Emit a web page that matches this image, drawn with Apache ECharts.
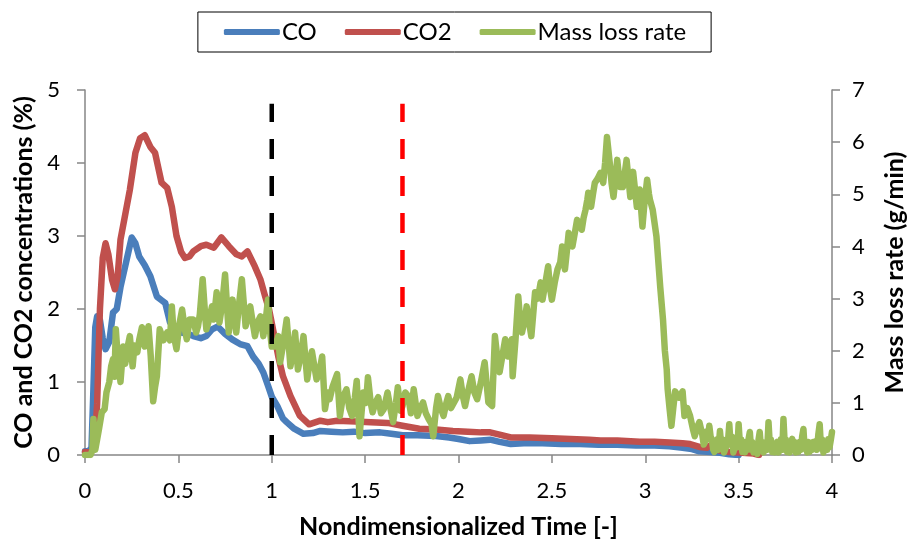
<!DOCTYPE html>
<html>
<head>
<meta charset="utf-8">
<script src="https://cdn.jsdelivr.net/npm/echarts@6/dist/echarts.min.js"></script>
<style>
html,body{margin:0;padding:0;background:#fff;}
#chart{width:910px;height:541px;}
</style>
</head>
<body>
<div id="chart"></div>
<script>
// ---- Data ----
var coTime = [0, 0.02, 0.035, 0.045, 0.055, 0.065, 0.08, 0.095, 0.11, 0.12, 0.13, 0.15, 0.17, 0.19, 0.22, 0.25, 0.27, 0.29, 0.32, 0.35, 0.385, 0.41, 0.43, 0.455, 0.48, 0.51, 0.55, 0.58, 0.62, 0.65, 0.68, 0.71, 0.75, 0.79, 0.83, 0.87, 0.9, 0.93, 0.955, 0.98, 1.0, 1.03, 1.06, 1.08, 1.12, 1.17, 1.22, 1.26, 1.32, 1.38, 1.44, 1.5, 1.58, 1.64, 1.7, 1.78, 1.88, 1.95, 2.0, 2.06, 2.12, 2.17, 2.22, 2.28, 2.35, 2.45, 2.55, 2.65, 2.75, 2.85, 2.95, 3.05, 3.13, 3.2, 3.25, 3.29, 3.35, 3.4, 3.45, 3.5];
var coValue = [0.05, 0.05, 0.1, 0.9, 1.75, 1.9, 1.85, 1.6, 1.45, 1.45, 1.55, 1.95, 2.0, 2.3, 2.64, 2.98, 2.9, 2.72, 2.6, 2.45, 2.17, 2.12, 2.08, 1.82, 1.72, 1.68, 1.66, 1.63, 1.6, 1.63, 1.72, 1.76, 1.66, 1.58, 1.52, 1.49, 1.35, 1.25, 1.13, 0.95, 0.8, 0.67, 0.5, 0.45, 0.36, 0.29, 0.3, 0.33, 0.32, 0.31, 0.32, 0.3, 0.31, 0.29, 0.27, 0.27, 0.26, 0.24, 0.22, 0.19, 0.2, 0.21, 0.18, 0.15, 0.16, 0.16, 0.15, 0.15, 0.14, 0.14, 0.13, 0.13, 0.12, 0.1, 0.08, 0.05, 0.04, 0.03, 0.01, 0.0];

var co2Time = [0, 0.03, 0.05, 0.065, 0.08, 0.095, 0.11, 0.125, 0.145, 0.16, 0.175, 0.19, 0.21, 0.24, 0.27, 0.295, 0.32, 0.35, 0.375, 0.41, 0.44, 0.465, 0.49, 0.515, 0.535, 0.56, 0.58, 0.62, 0.65, 0.69, 0.73, 0.77, 0.81, 0.84, 0.87, 0.91, 0.94, 0.965, 0.985, 1.0, 1.035, 1.06, 1.1, 1.15, 1.2, 1.26, 1.3, 1.35, 1.45, 1.53, 1.62, 1.7, 1.79, 1.88, 1.97, 2.05, 2.12, 2.17, 2.22, 2.28, 2.38, 2.5, 2.6, 2.7, 2.76, 2.85, 2.97, 3.05, 3.13, 3.2, 3.24, 3.29, 3.33, 3.36, 3.38, 3.4, 3.45, 3.52, 3.58, 3.61];
var co2Value = [0.04, 0.03, 0.1, 0.7, 2.0, 2.7, 2.9, 2.75, 2.4, 2.27, 2.45, 2.95, 3.22, 3.63, 4.14, 4.34, 4.38, 4.22, 4.14, 3.73, 3.66, 3.4, 3.0, 2.78, 2.7, 2.72, 2.79, 2.86, 2.88, 2.84, 2.98, 2.86, 2.75, 2.72, 2.79, 2.58, 2.4, 2.17, 2.0, 1.81, 1.35, 1.08, 0.81, 0.54, 0.42, 0.47, 0.45, 0.47, 0.46, 0.45, 0.44, 0.4, 0.36, 0.35, 0.33, 0.32, 0.31, 0.31, 0.28, 0.24, 0.24, 0.23, 0.22, 0.21, 0.2, 0.2, 0.18, 0.18, 0.17, 0.16, 0.15, 0.11, 0.1, 0.15, 0.08, 0.06, 0.04, 0.03, 0.02, 0.0];

// mass loss rate, growth/peak part (t <= 3.29)
var mlrTime = [0, 0.03, 0.04, 0.045, 0.055, 0.065, 0.075, 0.09, 0.105, 0.115, 0.13, 0.14, 0.15, 0.158, 0.165, 0.175, 0.19, 0.205, 0.215, 0.22, 0.23, 0.24, 0.255, 0.265, 0.28, 0.29, 0.305, 0.32, 0.34, 0.352, 0.365, 0.375, 0.385, 0.4, 0.42, 0.44, 0.455, 0.465, 0.475, 0.49, 0.505, 0.52, 0.535, 0.545, 0.56, 0.58, 0.595, 0.605, 0.615, 0.63, 0.645, 0.65, 0.665, 0.68, 0.69, 0.705, 0.72, 0.735, 0.75, 0.765, 0.77, 0.79, 0.81, 0.825, 0.84, 0.86, 0.875, 0.885, 0.9, 0.91, 0.925, 0.94, 0.955, 0.968, 0.98, 0.99, 1.0, 1.02, 1.035, 1.045, 1.06, 1.08, 1.1, 1.115, 1.125, 1.14, 1.155, 1.17, 1.19, 1.2, 1.215, 1.24, 1.255, 1.27, 1.285, 1.3, 1.31, 1.325, 1.35, 1.365, 1.38, 1.4, 1.415, 1.43, 1.445, 1.455, 1.47, 1.49, 1.505, 1.515, 1.53, 1.54, 1.555, 1.57, 1.585, 1.6, 1.62, 1.635, 1.65, 1.665, 1.675, 1.69, 1.7, 1.715, 1.73, 1.745, 1.76, 1.78, 1.795, 1.81, 1.825, 1.84, 1.855, 1.865, 1.88, 1.89, 1.905, 1.92, 1.935, 1.945, 1.96, 1.97, 1.99, 2.01, 2.025, 2.035, 2.05, 2.07, 2.085, 2.1, 2.12, 2.14, 2.16, 2.18, 2.195, 2.21, 2.22, 2.235, 2.25, 2.265, 2.285, 2.29, 2.305, 2.32, 2.33, 2.34, 2.355, 2.365, 2.38, 2.39, 2.41, 2.425, 2.44, 2.45, 2.465, 2.48, 2.49, 2.5, 2.515, 2.53, 2.545, 2.555, 2.565, 2.57, 2.58, 2.59, 2.6, 2.61, 2.625, 2.635, 2.65, 2.66, 2.67, 2.68, 2.69, 2.695, 2.705, 2.71, 2.72, 2.73, 2.745, 2.76, 2.775, 2.785, 2.795, 2.81, 2.82, 2.83, 2.84, 2.85, 2.865, 2.88, 2.89, 2.9, 2.91, 2.92, 2.935, 2.945, 2.955, 2.965, 2.97, 2.985, 2.995, 3.01, 3.02, 3.025, 3.04, 3.06, 3.08, 3.095, 3.105, 3.115, 3.12, 3.13, 3.14, 3.15, 3.16, 3.18, 3.2, 3.21, 3.225, 3.24, 3.255, 3.265, 3.28, 3.29];
var mlrValue = [0, 0, 0.1, 0.69, 0.1, 0.3, 0.5, 0.82, 0.88, 1.2, 1.4, 1.7, 1.84, 1.5, 2.41, 1.9, 1.4, 2.08, 1.75, 1.84, 2.1, 2.28, 1.7, 2.1, 1.97, 2.2, 2.45, 2.08, 2.47, 1.9, 1.03, 1.3, 1.51, 2.41, 2.2, 2.35, 2.2, 2.85, 2.3, 2.03, 2.5, 2.79, 2.4, 2.22, 2.6, 2.6, 2.35, 2.47, 2.7, 3.37, 2.6, 2.41, 2.6, 2.85, 2.6, 3.12, 2.54, 2.9, 3.46, 2.6, 2.35, 2.98, 2.35, 2.9, 3.37, 2.47, 2.7, 2.85, 2.5, 2.28, 2.55, 2.66, 2.28, 2.6, 2.98, 2.4, 2.08, 2.08, 2.28, 1.78, 2.1, 2.6, 1.7, 2.0, 2.35, 1.64, 1.9, 2.28, 1.45, 1.7, 1.99, 1.45, 1.6, 1.89, 0.88, 1.2, 1.07, 1.3, 1.55, 0.75, 1.1, 1.26, 0.9, 0.75, 1.1, 1.42, 0.36, 1.2, 1.0, 1.49, 1.0, 0.82, 1.0, 1.11, 0.8, 0.88, 1.2, 0.9, 0.63, 1.0, 1.3, 0.85, 0.94, 1.2, 1.13, 0.8, 1.26, 0.75, 0.9, 1.01, 0.8, 0.69, 0.6, 0.36, 0.9, 1.13, 0.9, 0.75, 1.0, 1.13, 0.9, 0.88, 1.1, 1.45, 1.1, 0.94, 1.2, 1.51, 1.2, 1.07, 1.4, 1.78, 1.01, 0.94, 2.28, 1.8, 1.59, 1.9, 2.22, 1.89, 2.22, 1.51, 2.2, 3.04, 2.6, 2.35, 2.6, 2.85, 2.5, 2.28, 3.12, 3.0, 3.31, 2.98, 3.3, 3.62, 3.2, 2.98, 3.3, 3.56, 3.7, 4.0, 3.7, 3.56, 3.9, 4.26, 4.1, 4.0, 4.3, 4.51, 4.4, 4.32, 4.55, 4.7, 4.9, 5.03, 4.85, 4.76, 5.0, 5.22, 5.3, 5.41, 5.22, 5.6, 6.1, 5.6, 5.2, 4.95, 5.3, 5.66, 5.14, 5.14, 5.4, 5.66, 5.3, 4.95, 5.43, 5.1, 4.76, 4.9, 5.09, 4.38, 4.8, 5.28, 5.0, 4.9, 4.7, 4.19, 3.23, 2.6, 2.0, 1.64, 1.26, 0.9, 0.56, 0.9, 1.22, 1.1, 1.22, 0.75, 0.9, 0.75, 0.5, 0.36, 0.55, 0.63];

// mass loss rate, noisy tail (t > 3.29)
var mlrTailTime = [3.305, 3.313, 3.32, 3.328, 3.335, 3.343, 3.35, 3.357, 3.364, 3.37, 3.377, 3.385, 3.392, 3.4, 3.408, 3.415, 3.422, 3.43, 3.437, 3.444, 3.45, 3.457, 3.465, 3.472, 3.48, 3.487, 3.494, 3.5, 3.507, 3.514, 3.52, 3.527, 3.534, 3.54, 3.547, 3.553, 3.56, 3.567, 3.573, 3.58, 3.587, 3.594, 3.6, 3.607, 3.613, 3.62, 3.627, 3.634, 3.64, 3.647, 3.653, 3.66, 3.667, 3.673, 3.68, 3.687, 3.694, 3.7, 3.707, 3.714, 3.72, 3.727, 3.734, 3.74, 3.747, 3.753, 3.76, 3.767, 3.774, 3.78, 3.787, 3.794, 3.8, 3.807, 3.814, 3.82, 3.827, 3.834, 3.84, 3.847, 3.853, 3.86, 3.867, 3.873, 3.88, 3.887, 3.894, 3.9, 3.907, 3.914, 3.92, 3.927, 3.934, 3.94, 3.947, 3.954, 3.96, 3.967, 3.974, 3.98, 3.987, 3.994, 4.0];
var mlrTailValue = [0.4, 0.2, 0.25, 0.45, 0.3, 0.56, 0.35, 0.3, 0.1, 0.06, 0.25, 0.3, 0.1, 0.46, 0.15, 0.3, 0.05, 0.06, 0.2, 0.3, 0.59, 0.2, 0.35, 0.05, 0.08, 0.3, 0.15, 0.59, 0.2, 0.3, 0.06, 0.2, 0.05, 0.25, 0.1, 0.3, 0.44, 0.1, 0.25, 0.05, 0.2, 0.06, 0.02, 0.3, 0.44, 0.1, 0.25, 0.05, 0.06, 0.2, 0.1, 0.63, 0.2, 0.3, 0.06, 0.2, 0.05, 0.2, 0.25, 0.05, 0.1, 0.3, 0.1, 0.69, 0.2, 0.3, 0.06, 0.25, 0.05, 0.2, 0.31, 0.1, 0.25, 0.05, 0.2, 0.06, 0.25, 0.1, 0.35, 0.5, 0.15, 0.2, 0.05, 0.25, 0.06, 0.2, 0.1, 0.25, 0.15, 0.27, 0.1, 0.4, 0.59, 0.2, 0.3, 0.05, 0.06, 0.25, 0.1, 0.3, 0.15, 0.3, 0.44];

// vertical dashed markers (time, top value on left axis)
var markerTimes = [1.0, 1.7];
var markerTop = 4.81;

var xTicks = {min: 0, max: 4, interval: 0.5};
var leftTicks = {min: 0, max: 5, interval: 1};
var rightTicks = {min: 0, max: 7, interval: 1};

var seriesNames = ['CO', 'CO2', 'Mass loss rate'];

function pairs(t, v) {
  var out = [];
  for (var i = 0; i < t.length; i++) out.push([t[i], v[i]]);
  return out;
}

var FONT = 'Lato, "Open Sans", sans-serif';
var axisGray = '#868686';
var LW = 6.5;

var chart = echarts.init(document.getElementById('chart'), null, {renderer: 'canvas'});
var option = {
  animation: false,
  backgroundColor: '#ffffff',
  textStyle: {fontFamily: FONT},
  legend: {
    data: seriesNames,
    top: 12,
    left: 'center',
    borderColor: '#000',
    borderWidth: 1,
    padding: [8, 25, 8, 26],
    itemGap: 28,
    itemWidth: 56,
    itemHeight: 6,
    icon: 'roundRect',
    textStyle: {fontFamily: FONT, fontSize: 24, color: '#000', padding: [0, 0, 0, -3]}
  },
  grid: {left: 85, right: 78, top: 90, bottom: 86, containLabel: false, outerBoundsMode: 'none'},
  xAxis: {
    type: 'value',
    min: xTicks.min, max: xTicks.max, interval: xTicks.interval,
    name: 'Nondimensionalized Time [-]',
    nameLocation: 'middle',
    nameGap: 59,
    nameTextStyle: {fontFamily: FONT, fontWeight: 'bold', fontSize: 25, color: '#000'},
    axisLine: {show: true, lineStyle: {color: axisGray, width: 1.5}},
    axisTick: {show: true, length: 8, lineStyle: {color: axisGray, width: 1.5}},
    axisLabel: {fontFamily: FONT, fontSize: 22, color: '#000', margin: 25},
    splitLine: {show: false}
  },
  yAxis: [{
    type: 'value', position: 'left',
    min: leftTicks.min, max: leftTicks.max, interval: leftTicks.interval,
    name: 'CO and CO2 concentrations (%)',
    nameLocation: 'middle',
    nameGap: 48,
    nameTextStyle: {fontFamily: FONT, fontWeight: 'bold', fontSize: 25, color: '#000'},
    axisLine: {show: true, lineStyle: {color: axisGray, width: 1.5}},
    axisTick: {show: true, length: 8, lineStyle: {color: axisGray, width: 1.5}},
    axisLabel: {fontFamily: FONT, fontSize: 22, color: '#000', margin: 25},
    splitLine: {show: false}
  }, {
    type: 'value', position: 'right',
    min: rightTicks.min, max: rightTicks.max, interval: rightTicks.interval,
    name: 'Mass loss rate (g/min)',
    nameLocation: 'middle',
    nameGap: 50,
    nameTextStyle: {fontFamily: FONT, fontWeight: 'bold', fontSize: 25, color: '#000'},
    axisLine: {show: true, lineStyle: {color: axisGray, width: 1.5}},
    axisTick: {show: true, length: 8, lineStyle: {color: axisGray, width: 1.5}},
    axisLabel: {fontFamily: FONT, fontSize: 22, color: '#000', margin: 20},
    splitLine: {show: false}
  }],
  series: [{
    name: 'CO', type: 'line', yAxisIndex: 0,
    data: pairs(coTime, coValue),
    showSymbol: false, symbol: 'none',
    color: '#4A7EBB',
    lineStyle: {color: '#4A7EBB', width: LW, cap: 'round', join: 'round'}
  }, {
    name: 'CO2', type: 'line', yAxisIndex: 0,
    data: pairs(co2Time, co2Value),
    showSymbol: false, symbol: 'none',
    color: '#C0504D',
    lineStyle: {color: '#C0504D', width: LW, cap: 'round', join: 'round'}
  }, {
    name: 'Mass loss rate', type: 'line', yAxisIndex: 1,
    data: pairs(mlrTime, mlrValue).concat(pairs(mlrTailTime, mlrTailValue)),
    showSymbol: false, symbol: 'none',
    color: '#9BBB59',
    lineStyle: {color: '#9BBB59', width: LW, cap: 'round', join: 'round'}
  }, {
    name: 'marker1', type: 'line', yAxisIndex: 0,
    data: [[markerTimes[0], 0], [markerTimes[0], markerTop]],
    showSymbol: false, symbol: 'none', silent: true, z: 5,
    lineStyle: {color: '#000000', width: 4.5, type: [20, 17]}
  }, {
    name: 'marker2', type: 'line', yAxisIndex: 0,
    data: [[markerTimes[1], 0], [markerTimes[1], markerTop]],
    showSymbol: false, symbol: 'none', silent: true, z: 5,
    lineStyle: {color: '#FF0000', width: 4.5, type: [20, 17]}
  }]
};
chart.setOption(option);
</script>
</body>
</html>
